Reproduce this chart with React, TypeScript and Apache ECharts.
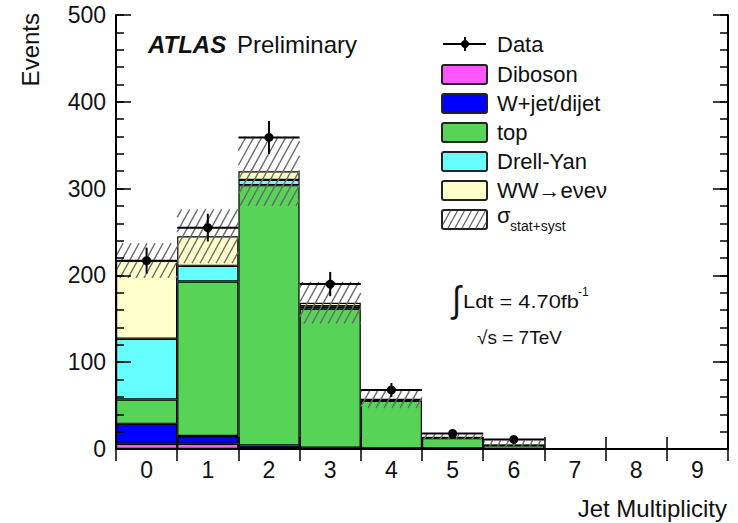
import React, { useEffect, useRef } from "react";
import * as echarts from "echarts";

// Jet multiplicity bins
const categories = ["0", "1", "2", "3", "4", "5", "6", "7", "8", "9"];

// Stacked background expectations (events per bin), bottom to top
const diboson = [6, 6, 1, 0.5, 0.2, 0.1, 0, 0, 0, 0];
const wJetDijet = [23, 9, 3, 1, 0.3, 0.4, 0.2, 0, 0, 0];
const topQuark = [28, 178, 300, 160, 55, 12, 4, 0, 0, 0];
const drellYan = [70, 18, 6, 3, 1, 0.5, 0.2, 0, 0, 0];
const wwEvEv = [90, 34, 10, 4, 1.5, 1, 0.2, 0, 0, 0];

// Combined stat+syst uncertainty on the total expectation
const systErrors = [20, 31, 40, 24, 11, 3, 5, 0, 0, 0];

// Observed data (bins 0..6) and their statistical errors
const dataCounts = [217, 255, 359, 190, 68, 18, 11];
const dataErrors = [15, 16, 19, 14, 8, 4, 3];

const FONT = "'Liberation Sans', Arial, Helvetica, sans-serif";

const COLORS = {
  diboson: "#ff55ff",
  wjet: "#0000ff",
  top: "#57d357",
  dy: "#66ffff",
  ww: "#ffffcc",
};

// Diagonal "/" hatch lines clipped to a rectangle (x0,y0 top-left, x1,y1 bottom-right)
function hatchLines(
  x0: number,
  y0: number,
  x1: number,
  y1: number,
  spacing: number,
  k: number,
  stroke: string,
  lineWidth: number
) {
  const h = y1 - y0;
  const out: any[] = [];
  if (h <= 0) return out;
  const start = Math.floor((x0 - k * h) / spacing) * spacing;
  for (let c = start; c <= x1; c += spacing) {
    const tmin = Math.max(0, (x0 - c) / k);
    const tmax = Math.min(h, (x1 - c) / k);
    if (tmax > tmin) {
      out.push({
        type: "line",
        shape: { x1: c + k * tmin, y1: y1 - tmin, x2: c + k * tmax, y2: y1 - tmax },
        style: { stroke, lineWidth },
      });
    }
  }
  return out;
}

// Major y axis (interval 100) and a tick-only companion for the minor ticks (interval 20)
const majorY = (position: "left" | "right", showLabels: boolean) => ({
  type: "value",
  min: 0,
  max: 500,
  interval: 100,
  position,
  z: 20,
  axisLine: { show: true, lineStyle: { color: "#000", width: 2 } },
  axisTick: { show: true, inside: true, length: 15, lineStyle: { color: "#000", width: 1.5 } },
  axisLabel: showLabels
    ? { show: true, fontFamily: FONT, fontSize: 23, color: "#111", margin: 10 }
    : { show: false },
  splitLine: { show: false },
});
const minorY = (position: "left" | "right") => ({
  type: "value",
  min: 0,
  max: 500,
  interval: 20,
  position,
  offset: 0,
  z: 20,
  axisLine: { show: false },
  axisTick: { show: true, inside: true, length: 8, lineStyle: { color: "#000", width: 1.5 } },
  axisLabel: { show: false },
  splitLine: { show: false },
});
const catX = (position: "top" | "bottom", showLabels: boolean) => ({
  type: "category",
  data: categories,
  position,
  z: 20,
  axisLine: { show: true, lineStyle: { color: "#000", width: 2 } },
  axisTick: { show: true, inside: true, length: 12, lineStyle: { color: "#000", width: 1.5 } },
  axisLabel: showLabels
    ? { show: true, fontFamily: FONT, fontSize: 23, color: "#111", margin: 9 }
    : { show: false },
  splitLine: { show: false },
});

export default function App() {
  const ref = useRef<HTMLDivElement>(null);

  useEffect(() => {
    if (!ref.current) return;
    const chart = echarts.init(ref.current, null, { renderer: "svg" });

    const totals = categories.map(
      (_, i) => diboson[i] + wJetDijet[i] + topQuark[i] + drellYan[i] + wwEvEv[i]
    );

    const barCommon = {
      type: "bar" as const,
      stack: "mc",
      barCategoryGap: "0%",
      xAxisIndex: 0,
      yAxisIndex: 0,
      z: 2,
    };
    const barItem = (color: string) => ({
      color,
      borderColor: "#000",
      borderWidth: 1.2,
    });

    // Legend drawn as a ROOT-style box
    const legX = 442;
    const legW = 45;
    const legH = 19;
    const legTextX = 497;
    const boxEntries = [
      { name: "Diboson", color: COLORS.diboson, cy: 74.5 },
      { name: "W+jet/dijet", color: COLORS.wjet, cy: 103.5 },
      { name: "top", color: COLORS.top, cy: 132.5 },
      { name: "Drell-Yan", color: COLORS.dy, cy: 161.5 },
      { name: "WW\u2192e\u03bde\u03bd", color: COLORS.ww, cy: 190.5 },
    ];
    const legendGraphics: any[] = [];
    // Data entry
    legendGraphics.push(
      { type: "line", shape: { x1: 443, y1: 44, x2: 486, y2: 44 }, style: { stroke: "#000", lineWidth: 2 } },
      { type: "line", shape: { x1: 465, y1: 37, x2: 465, y2: 51 }, style: { stroke: "#000", lineWidth: 2 } },
      { type: "circle", shape: { cx: 465, cy: 44, r: 4 }, style: { fill: "#000" } },
      {
        type: "text",
        x: legTextX,
        y: 44,
        style: { text: "Data", fontFamily: FONT, fontSize: 22, fill: "#111", verticalAlign: "middle" },
      }
    );
    boxEntries.forEach((e) => {
      legendGraphics.push(
        {
          type: "rect",
          shape: { x: legX, y: e.cy - legH / 2, width: legW, height: legH, r: 2 },
          style: { fill: e.color, stroke: "#222", lineWidth: 2 },
        },
        {
          type: "text",
          x: legTextX,
          y: e.cy,
          style: { text: e.name, fontFamily: FONT, fontSize: 22, fill: "#111", verticalAlign: "middle" },
        }
      );
    });
    // Uncertainty entry
    const sy = 219.5;
    legendGraphics.push(
      {
        type: "rect",
        shape: { x: legX, y: sy - legH / 2, width: legW, height: legH, r: 2 },
        style: { fill: "#fff", stroke: "#222", lineWidth: 2 },
      },
      ...hatchLines(legX + 1, sy - legH / 2 + 1, legX + legW - 1, sy + legH / 2 - 1, 7, 0.55, "#666", 1.3),
      {
        type: "text",
        x: 497,
        y: 215,
        style: { text: "\u03c3", fontFamily: FONT, fontSize: 22, fill: "#111", verticalAlign: "middle" },
      },
      {
        type: "text",
        x: 510,
        y: 226,
        style: { text: "stat+syst", fontFamily: FONT, fontSize: 14, fill: "#111", verticalAlign: "middle" },
      }
    );

    const option: any = {
      animation: false,
      backgroundColor: "#fff",
      grid: { left: 116, right: 10, top: 15, bottom: 74, containLabel: false },
      xAxis: [catX("bottom", true), catX("top", false)],
      yAxis: [majorY("left", true), majorY("right", false), minorY("left"), minorY("right")],
      series: [
        { ...barCommon, name: "Diboson", data: diboson, itemStyle: barItem(COLORS.diboson) },
        { ...barCommon, name: "W+jet/dijet", data: wJetDijet, itemStyle: barItem(COLORS.wjet) },
        { ...barCommon, name: "top", data: topQuark, itemStyle: barItem(COLORS.top) },
        { ...barCommon, name: "Drell-Yan", data: drellYan, itemStyle: barItem(COLORS.dy) },
        { ...barCommon, name: "WW\u2192e\u03bde\u03bd", data: wwEvEv, itemStyle: barItem(COLORS.ww) },
        {
          // stat+syst band around the total expectation
          type: "custom",
          name: "\u03c3 stat+syst",
          xAxisIndex: 0,
          yAxisIndex: 0,
          z: 5,
          silent: true,
          data: categories.map((_, i) => [i, totals[i], systErrors[i]]),
          encode: { x: 0, y: 1 },
          renderItem: (params: any, api: any) => {
            const i = api.value(0);
            const tot = api.value(1);
            const err = api.value(2);
            if (!err) return { type: "group", children: [] };
            const w = api.size([1, 0])[0];
            const top = api.coord([i, tot + err]);
            const bot = api.coord([i, Math.max(0, tot - err)]);
            const x0 = top[0] - w / 2;
            const x1 = top[0] + w / 2;
            return {
              type: "group",
              children: hatchLines(x0, top[1], x1, bot[1], 8, 0.55, "#6a6a6a", 1.4),
            };
          },
        },
        {
          // observed data with error bars
          type: "custom",
          name: "Data",
          xAxisIndex: 0,
          yAxisIndex: 0,
          z: 10,
          silent: true,
          data: dataCounts.map((v, i) => [i, v, dataErrors[i]]),
          encode: { x: 0, y: 1 },
          renderItem: (params: any, api: any) => {
            const i = api.value(0);
            const v = api.value(1);
            const e = api.value(2);
            const w = api.size([1, 0])[0];
            const p = api.coord([i, v]);
            const hi = api.coord([i, v + e]);
            const lo = api.coord([i, v - e]);
            const stroke = { stroke: "#000", lineWidth: 2 };
            return {
              type: "group",
              children: [
                { type: "line", shape: { x1: p[0] - w / 2, y1: p[1], x2: p[0] + w / 2, y2: p[1] }, style: stroke },
                { type: "line", shape: { x1: p[0], y1: hi[1], x2: p[0], y2: lo[1] }, style: stroke },
                { type: "circle", shape: { cx: p[0], cy: p[1], r: 4.5 }, style: { fill: "#000" } },
              ],
            };
          },
        },
      ],
      graphic: [
        {
          type: "text",
          x: 148,
          y: 44,
          style: {
            text: "ATLAS",
            fontFamily: FONT,
            fontSize: 24,
            fontWeight: "bold",
            fontStyle: "italic",
            fill: "#111",
            verticalAlign: "middle",
          },
        },
        {
          type: "text",
          x: 237,
          y: 44,
          style: { text: "Preliminary", fontFamily: FONT, fontSize: 24, fill: "#111", verticalAlign: "middle" },
        },
        ...legendGraphics,
        {
          type: "text",
          x: 452,
          y: 299,
          scaleY: 1.15,
          style: { text: "\u222b", fontFamily: FONT, fontSize: 32, fill: "#111", verticalAlign: "middle" },
        },
        {
          type: "text",
          x: 463,
          y: 301,
          scaleX: 1.15,
          style: { text: "Ldt = 4.70fb", fontFamily: FONT, fontSize: 19, fill: "#111", verticalAlign: "middle" },
        },
        {
          type: "text",
          x: 578,
          y: 292,
          style: { text: "-1", fontFamily: FONT, fontSize: 12, fill: "#111", verticalAlign: "middle" },
        },
        {
          type: "text",
          x: 477,
          y: 337,
          style: { text: "\u221as = 7TeV", fontFamily: FONT, fontSize: 19, fill: "#111", verticalAlign: "middle" },
        },
        {
          type: "text",
          x: 727,
          y: 508,
          style: {
            text: "Jet Multiplicity",
            fontFamily: FONT,
            fontSize: 24,
            fill: "#111",
            align: "right",
            verticalAlign: "middle",
          },
        },
        {
          type: "text",
          x: 30,
          y: 13,
          rotation: Math.PI / 2,
          style: {
            text: "Events",
            fontFamily: FONT,
            fontSize: 24,
            fill: "#111",
            align: "right",
            verticalAlign: "middle",
          },
        },
      ],
    };

    chart.setOption(option);
    return () => chart.dispose();
  }, []);

  return (
    <div
      ref={ref}
      style={{ position: "fixed", left: 0, top: 0, width: 738, height: 523, background: "#fff" }}
    />
  );
}
